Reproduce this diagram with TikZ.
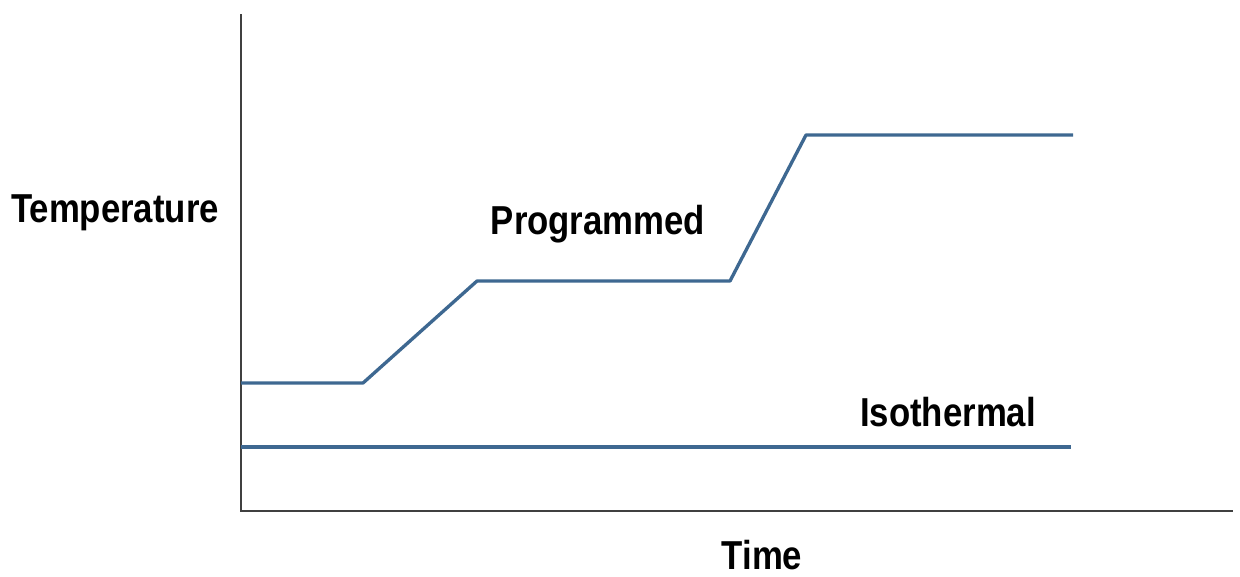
\documentclass[tikz,border=0pt]{standalone}
\usepackage{fontspec}
\newfontfamily\labelfont[FakeStretch=0.86]{Liberation Sans}
\usetikzlibrary{positioning}
\definecolor{curveblue}{RGB}{62,104,145}
\tikzset{
  axis/.style={draw=black!75,line width=1.1pt},
  curve/.style={draw=curveblue,line width=1.9pt,line join=round},
  lbl/.style={font=\labelfont\bfseries\fontsize{23}{27}\selectfont,inner sep=0pt}
}

\begin{document}
\begin{tikzpicture}[x=0.02cm,y=-0.02cm]
  \useasboundingbox (0,0) rectangle (1240,576);
  % axes
  \coordinate (top) at (241,14);
  \coordinate (origin) at (241,511);
  \coordinate (right) at (1233,511);
  \draw[axis] (top) -- (origin) -- (right);
  % programmed
  \coordinate (p1) at (241,383);
  \coordinate (p2) at (363,383);
  \coordinate (p3) at (477,281);
  \coordinate (p4) at (730,281);
  \coordinate (p5) at (806,135);
  \coordinate (p6) at (1073,135);
  \draw[curve] (p1) -- (p2) -- (p3) -- (p4) -- (p5) -- (p6);
  % isothermal
  \coordinate (i1) at (241,447);
  \coordinate (i2) at (1071,447);
  \draw[curve] (i1) -- (i2);
  % labels
  \node[lbl] (temp) at (115,213) {Temperature};
  \node[lbl] (prog) at (598,224) {Programmed};
  \node[lbl] (iso) at (948,412) {Isothermal};
  \node[lbl] (time) at (762,555) {Time};
\end{tikzpicture}
\end{document}
